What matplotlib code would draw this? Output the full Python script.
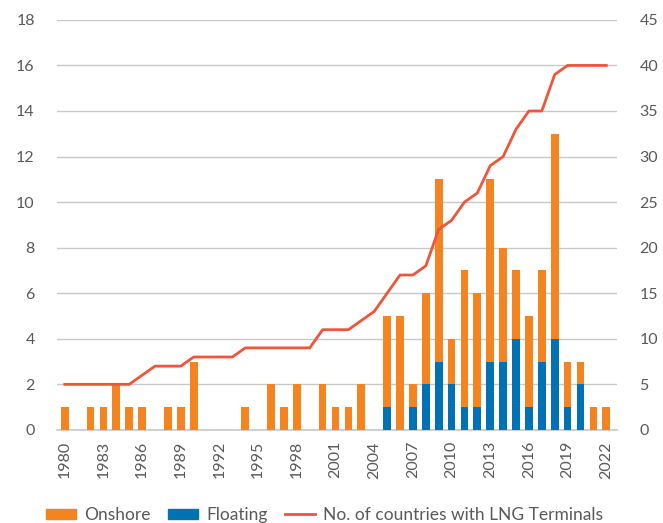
import matplotlib.pyplot as plt
from matplotlib.patches import Patch
from matplotlib.lines import Line2D

plt.rcParams['font.family'] = ['Lato', 'DejaVu Sans']

years = list(range(1980, 2023))
total = [1, 0, 1, 1, 2, 1, 1, 0, 1, 1, 3, 0, 0, 0, 1, 0, 2, 1, 2, 0,
         2, 1, 1, 2, 0, 5, 5, 2, 6, 11, 4, 7, 6, 11, 8, 7, 5, 7, 13, 3,
         3, 1, 1]
floating = [0, 0, 0, 0, 0, 0, 0, 0, 0, 0, 0, 0, 0, 0, 0, 0, 0, 0, 0, 0,
            0, 0, 0, 0, 0, 1, 0, 1, 2, 3, 2, 1, 1, 3, 3, 4, 1, 3, 4, 1,
            2, 0, 0]
countries = [5, 5, 5, 5, 5, 5, 6, 7, 7, 7, 8, 8, 8, 8, 9, 9, 9, 9, 9, 9,
             11, 11, 11, 12, 13, 15, 17, 17, 18, 22, 23, 25, 26, 29, 30, 33, 35, 35, 39, 40,
             40, 40, 40]
onshore = [t - f for t, f in zip(total, floating)]

ORANGE = '#F48420'
BLUE = '#0071B3'
RED = '#EF553A'
GREY = '#595959'
GRID = '#C8C8C8'

fig = plt.figure(figsize=(6.63, 5.23), dpi=100)
ax = fig.add_axes([0.086, 0.178, 0.845, 0.784])

ax.bar(years, floating, width=0.6, color=BLUE, zorder=3)
ax.bar(years, onshore, width=0.6, bottom=floating, color=ORANGE, zorder=3)

ax.set_ylim(0, 18)
ax.set_yticks(range(0, 19, 2))
ax.set_xlim(1979.4, 2022.85)
ax.set_xticks(range(1980, 2023, 3))
ax.tick_params(axis='x', labelrotation=90, length=0, pad=8, labelsize=11.5, labelcolor=GREY)
ax.tick_params(axis='y', length=0, pad=16, labelsize=11.5, labelcolor=GREY)
ax.grid(axis='y', color=GRID, lw=1, zorder=0)
for s in ['top', 'right', 'left']:
    ax.spines[s].set_visible(False)
ax.spines['bottom'].set_color(GRID)
ax.spines['bottom'].set_linewidth(1.2)

ax2 = ax.twinx()
ax2.plot(years, countries, color=RED, lw=2, zorder=4)
ax2.set_ylim(0, 45)
ax2.set_yticks(range(0, 46, 5))
ax2.tick_params(axis='y', length=0, pad=16, labelsize=11.5, labelcolor=GREY)
for s in ax2.spines.values():
    s.set_visible(False)

handles = [Patch(color=ORANGE, label='Onshore'),
           Patch(color=BLUE, label='Floating'),
           Line2D([], [], color=RED, lw=2, label='No. of countries with LNG Terminals')]
fig.legend(handles=handles, loc='lower center', bbox_to_anchor=(0.49, -0.03), ncol=3,
           frameon=False, fontsize=12.5, labelcolor=GREY, handlelength=1.7,
           handleheight=0.55, columnspacing=1.0, handletextpad=0.5)

fig.savefig('out.png', dpi=100)
